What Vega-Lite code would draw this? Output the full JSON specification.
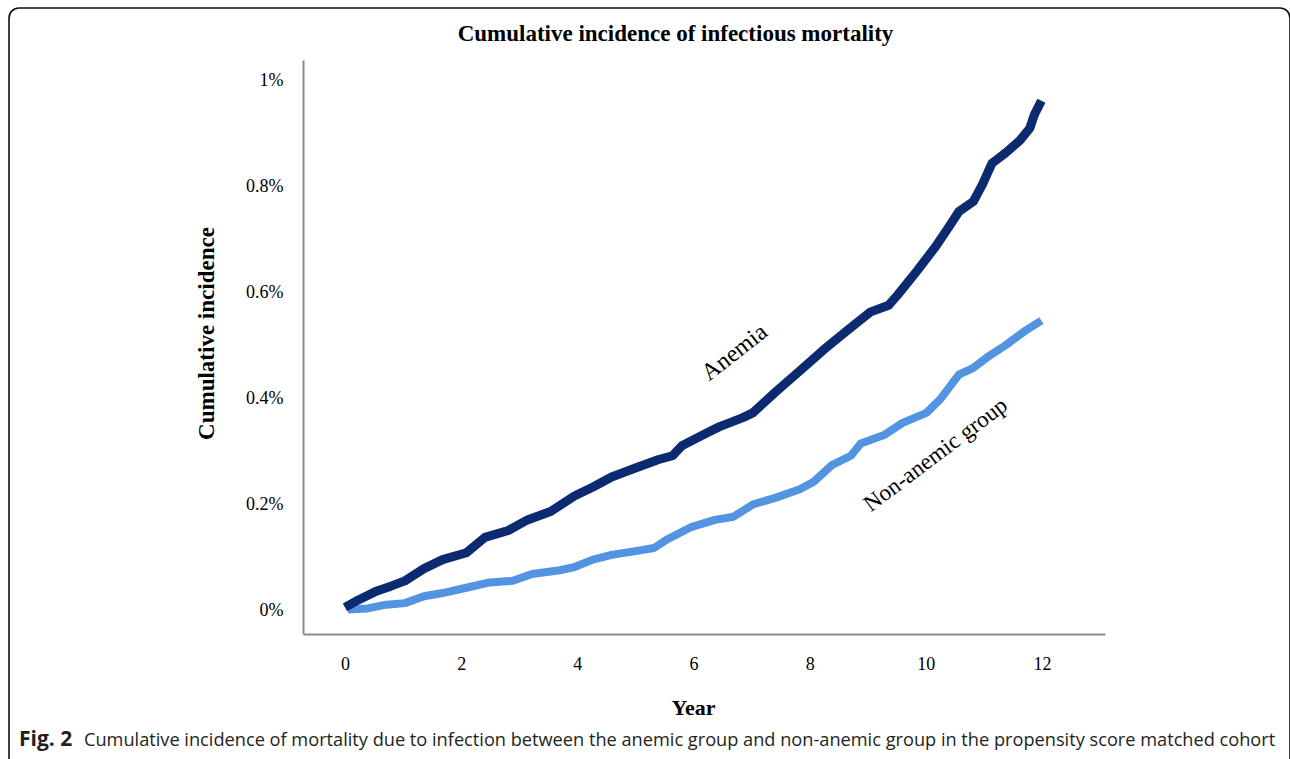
{
  "$schema": "https://vega.github.io/schema/vega-lite/v6.json",
  "width": 1281,
  "height": 770,
  "autosize": {"type": "none"},
  "padding": {"left": 9, "top": 8, "right": 0, "bottom": 0},
  "background": "white",
  "config": {
    "view": {"stroke": "#111111", "strokeWidth": 1.6, "cornerRadius": 10, "fill": null},
    "font": "Liberation Serif"
  },
  "title": {
    "text": "Cumulative incidence of infectious mortality",
    "font": "Liberation Serif",
    "fontSize": 23,
    "fontWeight": "bold",
    "color": "#000000",
    "anchor": "middle",
    "frame": "group",
    "dx": 26,
    "offset": -56,
    "baseline": "alphabetic"
  },
  "datasets": {
    "curves": [
      {"group": "Anemia", "year": 0.0, "incidence": 0.005},
      {"group": "Anemia", "year": 0.23, "incidence": 0.019},
      {"group": "Anemia", "year": 0.55, "incidence": 0.036},
      {"group": "Anemia", "year": 0.79, "incidence": 0.045},
      {"group": "Anemia", "year": 1.03, "incidence": 0.055},
      {"group": "Anemia", "year": 1.36, "incidence": 0.078},
      {"group": "Anemia", "year": 1.68, "incidence": 0.095},
      {"group": "Anemia", "year": 2.09, "incidence": 0.108},
      {"group": "Anemia", "year": 2.41, "incidence": 0.137},
      {"group": "Anemia", "year": 2.81, "incidence": 0.150},
      {"group": "Anemia", "year": 3.14, "incidence": 0.170},
      {"group": "Anemia", "year": 3.54, "incidence": 0.186},
      {"group": "Anemia", "year": 3.95, "incidence": 0.215},
      {"group": "Anemia", "year": 4.27, "incidence": 0.232},
      {"group": "Anemia", "year": 4.59, "incidence": 0.251},
      {"group": "Anemia", "year": 5.00, "incidence": 0.268},
      {"group": "Anemia", "year": 5.40, "incidence": 0.284},
      {"group": "Anemia", "year": 5.64, "incidence": 0.291},
      {"group": "Anemia", "year": 5.80, "incidence": 0.310},
      {"group": "Anemia", "year": 6.21, "incidence": 0.333},
      {"group": "Anemia", "year": 6.45, "incidence": 0.346},
      {"group": "Anemia", "year": 6.85, "incidence": 0.363},
      {"group": "Anemia", "year": 7.02, "incidence": 0.372},
      {"group": "Anemia", "year": 7.42, "incidence": 0.412},
      {"group": "Anemia", "year": 7.83, "incidence": 0.451},
      {"group": "Anemia", "year": 8.23, "incidence": 0.490},
      {"group": "Anemia", "year": 8.63, "incidence": 0.526},
      {"group": "Anemia", "year": 9.04, "incidence": 0.562},
      {"group": "Anemia", "year": 9.36, "incidence": 0.575},
      {"group": "Anemia", "year": 9.52, "incidence": 0.595},
      {"group": "Anemia", "year": 9.85, "incidence": 0.640},
      {"group": "Anemia", "year": 10.17, "incidence": 0.686},
      {"group": "Anemia", "year": 10.41, "incidence": 0.725},
      {"group": "Anemia", "year": 10.57, "incidence": 0.752},
      {"group": "Anemia", "year": 10.82, "incidence": 0.771},
      {"group": "Anemia", "year": 10.98, "incidence": 0.804},
      {"group": "Anemia", "year": 11.14, "incidence": 0.843},
      {"group": "Anemia", "year": 11.38, "incidence": 0.863},
      {"group": "Anemia", "year": 11.62, "incidence": 0.886},
      {"group": "Anemia", "year": 11.79, "incidence": 0.909},
      {"group": "Anemia", "year": 11.87, "incidence": 0.935},
      {"group": "Anemia", "year": 11.99, "incidence": 0.961},
      {"group": "Non-anemic group", "year": 0.05, "incidence": 0.001},
      {"group": "Non-anemic group", "year": 0.39, "incidence": 0.003},
      {"group": "Non-anemic group", "year": 0.71, "incidence": 0.010},
      {"group": "Non-anemic group", "year": 1.03, "incidence": 0.013},
      {"group": "Non-anemic group", "year": 1.36, "incidence": 0.026},
      {"group": "Non-anemic group", "year": 1.68, "incidence": 0.032},
      {"group": "Non-anemic group", "year": 2.09, "incidence": 0.042},
      {"group": "Non-anemic group", "year": 2.49, "incidence": 0.052},
      {"group": "Non-anemic group", "year": 2.89, "incidence": 0.055},
      {"group": "Non-anemic group", "year": 3.22, "incidence": 0.068},
      {"group": "Non-anemic group", "year": 3.70, "incidence": 0.075},
      {"group": "Non-anemic group", "year": 3.95, "incidence": 0.081},
      {"group": "Non-anemic group", "year": 4.27, "incidence": 0.095},
      {"group": "Non-anemic group", "year": 4.59, "incidence": 0.104},
      {"group": "Non-anemic group", "year": 5.00, "incidence": 0.111},
      {"group": "Non-anemic group", "year": 5.32, "incidence": 0.117},
      {"group": "Non-anemic group", "year": 5.56, "incidence": 0.134},
      {"group": "Non-anemic group", "year": 5.97, "incidence": 0.157},
      {"group": "Non-anemic group", "year": 6.37, "incidence": 0.170},
      {"group": "Non-anemic group", "year": 6.69, "incidence": 0.176},
      {"group": "Non-anemic group", "year": 7.02, "incidence": 0.199},
      {"group": "Non-anemic group", "year": 7.42, "incidence": 0.212},
      {"group": "Non-anemic group", "year": 7.83, "incidence": 0.228},
      {"group": "Non-anemic group", "year": 8.07, "incidence": 0.242},
      {"group": "Non-anemic group", "year": 8.39, "incidence": 0.274},
      {"group": "Non-anemic group", "year": 8.71, "incidence": 0.291},
      {"group": "Non-anemic group", "year": 8.88, "incidence": 0.314},
      {"group": "Non-anemic group", "year": 9.28, "incidence": 0.330},
      {"group": "Non-anemic group", "year": 9.60, "incidence": 0.353},
      {"group": "Non-anemic group", "year": 10.01, "incidence": 0.372},
      {"group": "Non-anemic group", "year": 10.25, "incidence": 0.398},
      {"group": "Non-anemic group", "year": 10.57, "incidence": 0.444},
      {"group": "Non-anemic group", "year": 10.82, "incidence": 0.457},
      {"group": "Non-anemic group", "year": 11.06, "incidence": 0.477},
      {"group": "Non-anemic group", "year": 11.38, "incidence": 0.500},
      {"group": "Non-anemic group", "year": 11.70, "incidence": 0.526},
      {"group": "Non-anemic group", "year": 11.99, "incidence": 0.546}
    ]
  },
  "layer": [
    {
      "data": {"name": "curves"},
      "encoding": {
        "x": {
          "field": "year",
          "type": "quantitative",
          "scale": {"domain": [-0.7231, 13.085], "range": [294, 1096], "nice": false, "zero": false},
          "axis": {
            "orient": "bottom",
            "offset": -144,
            "values": [0, 2, 4, 6, 8, 10, 12],
            "labelExpr": "format(datum.value, '~g')",
            "ticks": false,
            "grid": false,
            "domainColor": "#8c8c8c",
            "domainWidth": 2,
            "labelFont": "Liberation Serif",
            "labelFontSize": 18,
            "labelColor": "#000000",
            "labelPadding": 21,
            "title": "Year",
            "titleFont": "Liberation Serif",
            "titleFontSize": 22,
            "titleFontWeight": "bold",
            "titleColor": "#000000",
            "titleX": 684,
            "titleY": 80,
            "titleBaseline": "alphabetic",
            "titleAlign": "center"
          }
        },
        "y": {
          "field": "incidence",
          "type": "quantitative",
          "scale": {"domain": [-0.04528, 1.03774], "range": [626, 52], "nice": false, "zero": false},
          "axis": {
            "orient": "left",
            "offset": -294,
            "values": [0, 0.2, 0.4, 0.6, 0.8, 1],
            "labelExpr": "format(datum.value, '~g') + '%'",
            "ticks": false,
            "grid": false,
            "domainColor": "#8c8c8c",
            "domainWidth": 2,
            "labelFont": "Liberation Serif",
            "labelFontSize": 18,
            "labelColor": "#000000",
            "labelPadding": 20,
            "title": "Cumulative incidence",
            "titleFont": "Liberation Serif",
            "titleFontSize": 23,
            "titleFontWeight": "bold",
            "titleColor": "#000000",
            "titleAngle": -90,
            "titleX": -97,
            "titleY": 325,
            "titleBaseline": "middle",
            "titleAlign": "center"
          }
        }
      },
      "layer": [
        {
          "transform": [{"filter": "datum.group === 'Non-anemic group'"}],
          "mark": {"type": "line", "color": "#5294e2", "strokeWidth": 8, "strokeJoin": "round"}
        },
        {
          "transform": [{"filter": "datum.group === 'Anemia'"}],
          "mark": {"type": "line", "color": "#0b2a6f", "strokeWidth": 9, "strokeJoin": "round"}
        }
      ]
    },
    {
      "data": {"values": [{"label": "Anemia"}]},
      "mark": {"type": "text", "font": "Liberation Serif", "fontSize": 24, "angle": -38, "align": "center", "baseline": "middle", "color": "#000000"},
      "encoding": {"x": {"datum": 6.71, "type": "quantitative"}, "y": {"datum": 0.4855, "type": "quantitative"}, "text": {"field": "label"}}
    },
    {
      "data": {"values": [{"label": "Non-anemic group"}]},
      "mark": {"type": "text", "font": "Liberation Serif", "fontSize": 23, "angle": -37, "align": "center", "baseline": "middle", "color": "#000000"},
      "encoding": {"x": {"datum": 10.17, "type": "quantitative"}, "y": {"datum": 0.2926, "type": "quantitative"}, "text": {"field": "label"}}
    },
    {
      "data": {"values": [{"label": "Fig. 2"}]},
      "mark": {"type": "text", "font": "Open Sans", "fontSize": 21, "fontWeight": "bold", "align": "left", "baseline": "alphabetic", "color": "#231f20"},
      "encoding": {"x": {"datum": -5.613, "type": "quantitative"}, "y": {"datum": -0.2566, "type": "quantitative"}, "text": {"field": "label"}}
    },
    {
      "data": {"values": [{"label": "Cumulative incidence of mortality due to infection between the anemic group and non-anemic group in the propensity score matched cohort"}]},
      "mark": {"type": "text", "font": "Open Sans", "fontSize": 18.2, "align": "left", "baseline": "alphabetic", "color": "#231f20"},
      "encoding": {"x": {"datum": -4.494, "type": "quantitative"}, "y": {"datum": -0.2566, "type": "quantitative"}, "text": {"field": "label"}}
    }
  ]
}
